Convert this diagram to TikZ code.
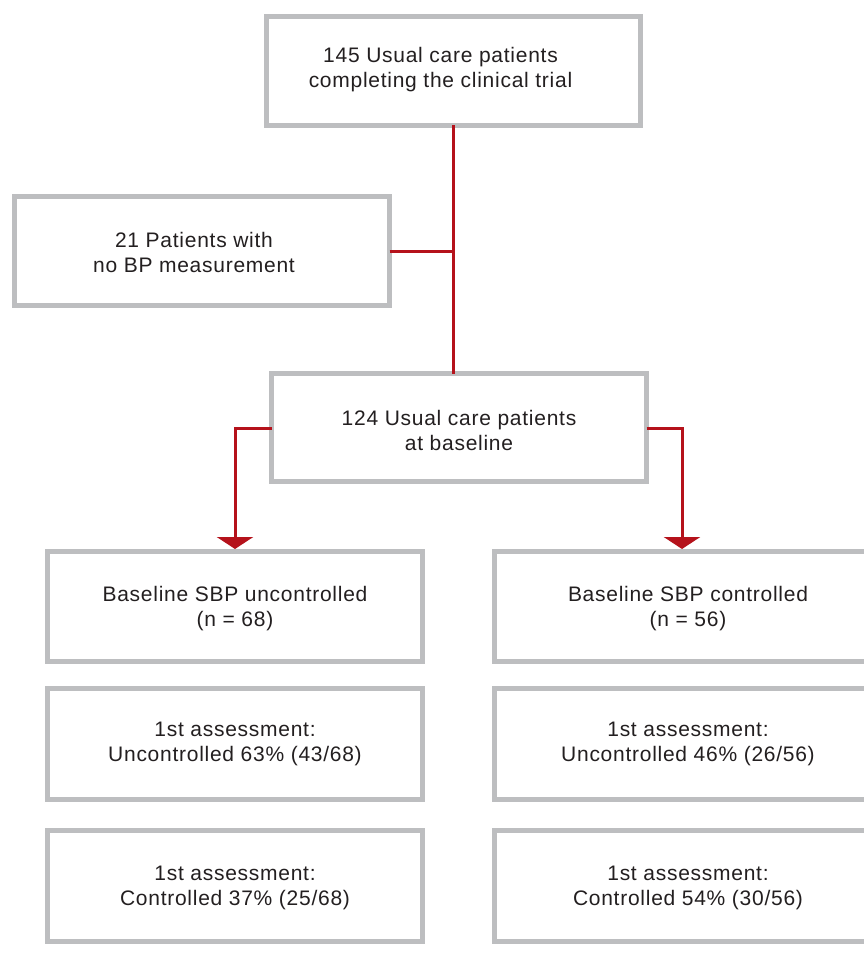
\documentclass[tikz,border=0pt]{standalone}
\usepackage{fontspec}
\setmainfont[LetterSpace=3.5]{Liberation Sans}
\usetikzlibrary{arrows.meta}
\definecolor{boxgray}{HTML}{BDBEC0}
\definecolor{flowred}{HTML}{B5121B}
\definecolor{txtgray}{HTML}{231F20}
% #1 = shift of the text block to the right, #2 = shift downwards, #3 = lines
\newcommand\shiftedtext[3]{\makebox[0pt][c]{\hspace*{\dimexpr 2\dimexpr#1\relax\relax}\raisebox{-#2}[\height][\depth]{\begin{tabular}{@{}c@{}}#3\end{tabular}}}}
\tikzset{
  fbox/.style={draw=boxgray, line width=5pt, fill=white, outer sep=0pt, inner sep=0pt,
    minimum width=375pt, minimum height=109pt, text=txtgray,
    font=\fontsize{21pt}{25pt}\selectfont},
  redline/.style={draw=flowred, line width=3pt},
  redarrow/.style={redline, -{Triangle[width=36pt,length=12pt]}, shorten >=2.5pt}
}
\begin{document}
\begin{tikzpicture}[x=1pt,y=-1pt]
\clip (0,0) rectangle (864,963);
\fill[white] (0,0) rectangle (864,963);
\node[fbox, minimum width=374pt] (top) at (453.5,71) {\shiftedtext{-13pt}{-1pt}{145 Usual care patients\\completing the clinical trial}};
\node[fbox] (nobp) at (202,251) {\shiftedtext{-8pt}{3.5pt}{21 Patients with\\no BP measurement}};
\node[fbox, minimum height=108pt] (base) at (459,427.5) {\shiftedtext{0pt}{5pt}{124 Usual care patients\\at baseline}};
\node[fbox, minimum height=110pt] (unc) at (235,606.5) {\shiftedtext{0pt}{2pt}{Baseline SBP uncontrolled\\(n = 68)}};
\node[fbox, minimum height=111pt] (unca) at (235,744) {\shiftedtext{0pt}{0pt}{1st assessment:\\Uncontrolled 63\% (43/68)}};
\node[fbox, minimum height=111pt] (uncb) at (235,886) {\shiftedtext{0pt}{1.5pt}{1st assessment:\\Controlled 37\% (25/68)}};
\node[fbox, minimum height=110pt] (con) at (682,606.5) {\shiftedtext{6pt}{2pt}{Baseline SBP controlled\\(n = 56)}};
\node[fbox, minimum height=111pt] (cona) at (682,744) {\shiftedtext{6pt}{0pt}{1st assessment:\\Uncontrolled 46\% (26/56)}};
\node[fbox, minimum height=111pt] (conb) at (682,886) {\shiftedtext{6pt}{1.5pt}{1st assessment:\\Controlled 54\% (30/56)}};
\coordinate (j) at (top.south |- nobp.east);
\draw[redline] (top.south) -- (top.south |- base.north);
\draw[redline] (nobp.east) -- (j);
\draw[redarrow] (base.west |- 0,428) -| (unc.north);
\draw[redarrow] (base.east |- 0,428) -| (con.north);
\end{tikzpicture}
\end{document}
